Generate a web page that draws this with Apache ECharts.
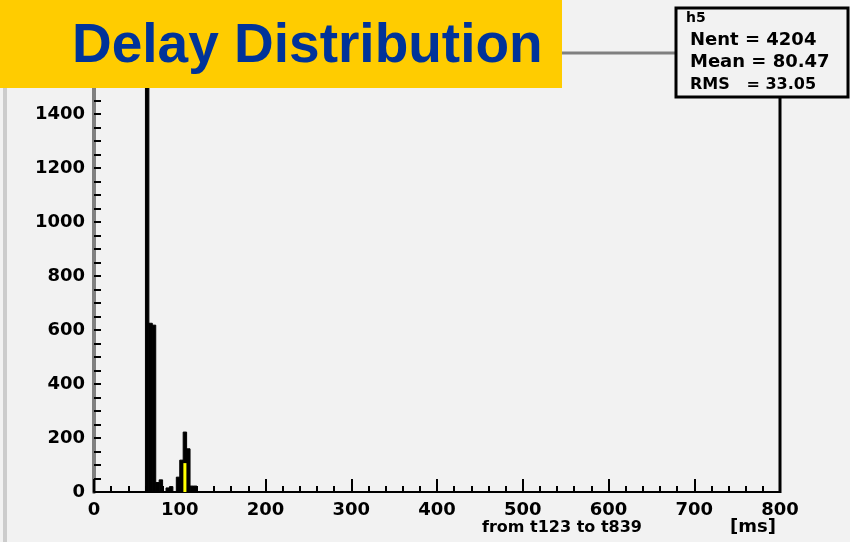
<!DOCTYPE html>
<html>
<head>
<meta charset="utf-8">
<script src="https://cdn.jsdelivr.net/npm/echarts@6/dist/echarts.min.js"></script>
<style>
    html, body { margin: 0; padding: 0; background: #f2f2f2; }
    #delayChart { width: 850px; height: 542px; }
</style>
</head>
<body>
<div id="delayChart"></div>
<script>
// histogram h5: bins 4 ms wide, only non-empty bins listed
const binWidth = 4;
const binStarts = [60, 64, 68, 72, 76, 84, 88, 96, 100, 104, 108, 112, 116];
const binCounts = [1550, 625, 618, 35, 45, 15, 20, 55, 118, 222, 160, 22, 22];
// yellow fill visible in one bin
const fillStarts = [104];
const fillCounts = [107];

const xTicks = [0, 100, 200, 300, 400, 500, 600, 700, 800];
const yTicks = [0, 200, 400, 600, 800, 1000, 1200, 1400];

const statLines = ['h5', 'Nent = 4204', 'Mean = 80.47', 'RMS   = 33.05'];
const titleText = 'Delay Distribution';
const xTitle = 'from t123 to t839';
const unitText = '[ms]';

document.addEventListener('DOMContentLoaded', function() {
    const chart = echarts.init(document.getElementById('delayChart'));

    const histData = binStarts.map((s, i) => [s, binCounts[i]]);
    const fillData = fillStarts.map((s, i) => [s, fillCounts[i]]);

    function binRect(inset, color, outline) {
        return function(params, api) {
            const x0 = api.value(0);
            const v = api.value(1);
            const p0 = api.coord([x0, 0]);
            const p1 = api.coord([x0 + binWidth, v]);
            return {
                type: 'rect',
                shape: {
                    x: p0[0] + inset,
                    y: p1[1],
                    width: p1[0] - p0[0] - 2 * inset,
                    height: p0[1] - p1[1]
                },
                style: outline ? { fill: color, stroke: color, lineWidth: 1 } : { fill: color }
            };
        };
    }

    const option = {
        backgroundColor: '#f2f2f2',
        animation: false,
        grid: {
            left: 94,
            right: 70,
            top: 53,
            bottom: 50
        },
        xAxis: {
            type: 'value',
            min: 0,
            max: 800,
            interval: 100,
            axisLine: { lineStyle: { color: '#000', width: 2 } },
            axisTick: { inside: true, length: 13, lineStyle: { color: '#000', width: 2 } },
            minorTick: { show: true, splitNumber: 5, length: 6, lineStyle: { color: '#000', width: 2 } },
            splitLine: { show: false },
            axisLabel: {
                margin: 9,
                color: '#000',
                fontFamily: 'DejaVu Sans',
                fontWeight: 'bold',
                fontSize: 18,
                formatter: v => xTicks.indexOf(v) >= 0 ? String(v) : ''
            }
        },
        yAxis: {
            type: 'value',
            min: 0,
            max: 1626,
            interval: 200,
            axisLine: { show: true, lineStyle: { color: '#808080', width: 4 } },
            axisTick: { show: true, inside: true, length: 7, lineStyle: { color: '#000', width: 2 } },
            minorTick: { show: true, splitNumber: 4, length: 7, lineStyle: { color: '#000', width: 2 } },
            splitLine: { show: false },
            axisLabel: {
                margin: 9,
                color: '#000',
                fontFamily: 'DejaVu Sans',
                fontWeight: 'bold',
                fontSize: 18,
                formatter: v => yTicks.indexOf(v) >= 0 ? String(v) : ''
            }
        },
        series: [
            {
                name: 'h5',
                type: 'custom',
                renderItem: binRect(0, '#000', true),
                encode: { x: 0, y: 1 },
                data: histData
            },
            {
                name: 'fill',
                type: 'custom',
                z: 3,
                renderItem: binRect(0.2, '#ffff00', false),
                encode: { x: 0, y: 1 },
                data: fillData
            }
        ],
        graphic: [
            // left edge strip
            { type: 'rect', z: 50, shape: { x: 3, y: 88, width: 4, height: 454 }, style: { fill: '#cccccc' } },
            // frame: top and right
            { type: 'line', z: 50, shape: { x1: 560, y1: 53, x2: 676, y2: 53 }, style: { stroke: '#808080', lineWidth: 3 } },
            { type: 'line', z: 50, shape: { x1: 780, y1: 96, x2: 780, y2: 493 }, style: { stroke: '#000', lineWidth: 3 } },
            // title box
            { type: 'rect', z: 100, shape: { x: 0, y: 0, width: 562, height: 88 }, style: { fill: '#ffcc00' } },
            {
                type: 'text', z: 101, left: 72, top: 19,
                style: {
                    text: titleText,
                    fill: '#003399',
                    font: 'bold 55px "Liberation Sans", Arial, sans-serif'
                }
            },
            // stats box
            { type: 'rect', z: 100, shape: { x: 676, y: 8, width: 172, height: 89 }, style: { fill: '#f2f2f2', stroke: '#000', lineWidth: 3 } },
            { type: 'text', z: 101, left: 686, top: 11, style: { text: statLines[0], fill: '#000', font: 'bold 14px "DejaVu Sans"' } },
            { type: 'text', z: 101, left: 690, top: 31, style: { text: statLines[1], fill: '#000', font: 'bold 18px "DejaVu Sans"' } },
            { type: 'text', z: 101, left: 690, top: 53, style: { text: statLines[2], fill: '#000', font: 'bold 18px "DejaVu Sans"' } },
            { type: 'text', z: 101, left: 690, top: 77, style: { text: statLines[3], fill: '#000', font: 'bold 16px "DejaVu Sans"' } },
            // axis titles
            { type: 'text', z: 50, left: 482, top: 520, style: { text: xTitle, fill: '#000', font: 'bold 16px "DejaVu Sans"' } },
            { type: 'text', z: 50, left: 730, top: 518, style: { text: unitText, fill: '#000', font: 'bold 18px "DejaVu Sans"' } }
        ]
    };

    chart.setOption(option);

    window.addEventListener('resize', function() {
        chart.resize();
    });
});
</script>
</body>
</html>
